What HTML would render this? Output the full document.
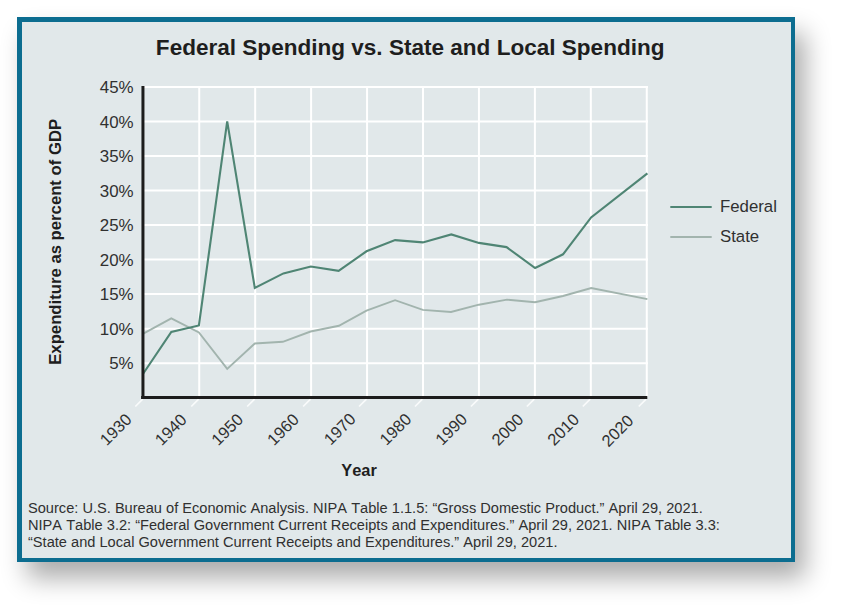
<!DOCTYPE html>
<html><head><meta charset="utf-8"><style>
html,body{margin:0;padding:0;background:#fff;width:841px;height:608px;overflow:hidden;}
.frame{position:absolute;left:17px;top:17px;width:769px;height:536px;border:solid #0c6d90;border-width:5px 4px 4px 5px;background:#e1e8ea;box-shadow:10px 16px 24px rgba(0,0,0,0.33);}
svg{position:absolute;left:0;top:0;}
text{font-family:"Liberation Sans",sans-serif;font-kerning:none;}
</style></head><body>
<div class="frame"></div>
<svg width="841" height="608" viewBox="0 0 841 608">
<line x1="199.24" y1="86" x2="199.24" y2="397" stroke="#ffffff" stroke-width="2"/>
<line x1="255.18" y1="86" x2="255.18" y2="397" stroke="#ffffff" stroke-width="2"/>
<line x1="311.12" y1="86" x2="311.12" y2="397" stroke="#ffffff" stroke-width="2"/>
<line x1="367.06" y1="86" x2="367.06" y2="397" stroke="#ffffff" stroke-width="2"/>
<line x1="423.00" y1="86" x2="423.00" y2="397" stroke="#ffffff" stroke-width="2"/>
<line x1="478.94" y1="86" x2="478.94" y2="397" stroke="#ffffff" stroke-width="2"/>
<line x1="534.88" y1="86" x2="534.88" y2="397" stroke="#ffffff" stroke-width="2"/>
<line x1="590.82" y1="86" x2="590.82" y2="397" stroke="#ffffff" stroke-width="2"/>
<line x1="646.76" y1="86" x2="646.76" y2="397" stroke="#ffffff" stroke-width="2"/>
<line x1="143" y1="363.17" x2="648" y2="363.17" stroke="#ffffff" stroke-width="2"/>
<line x1="143" y1="328.64" x2="648" y2="328.64" stroke="#ffffff" stroke-width="2"/>
<line x1="143" y1="294.11" x2="648" y2="294.11" stroke="#ffffff" stroke-width="2"/>
<line x1="143" y1="259.58" x2="648" y2="259.58" stroke="#ffffff" stroke-width="2"/>
<line x1="143" y1="225.05" x2="648" y2="225.05" stroke="#ffffff" stroke-width="2"/>
<line x1="143" y1="190.52" x2="648" y2="190.52" stroke="#ffffff" stroke-width="2"/>
<line x1="143" y1="155.99" x2="648" y2="155.99" stroke="#ffffff" stroke-width="2"/>
<line x1="143" y1="121.46" x2="648" y2="121.46" stroke="#ffffff" stroke-width="2"/>
<line x1="143" y1="86.93" x2="648" y2="86.93" stroke="#ffffff" stroke-width="2"/>
<line x1="142.70" y1="399.1" x2="135.30" y2="406.5" stroke="#ffffff" stroke-width="1.7" stroke-opacity="0.8"/>
<line x1="198.64" y1="399.1" x2="191.24" y2="406.5" stroke="#ffffff" stroke-width="1.7" stroke-opacity="0.8"/>
<line x1="254.58" y1="399.1" x2="247.18" y2="406.5" stroke="#ffffff" stroke-width="1.7" stroke-opacity="0.8"/>
<line x1="310.52" y1="399.1" x2="303.12" y2="406.5" stroke="#ffffff" stroke-width="1.7" stroke-opacity="0.8"/>
<line x1="366.46" y1="399.1" x2="359.06" y2="406.5" stroke="#ffffff" stroke-width="1.7" stroke-opacity="0.8"/>
<line x1="422.40" y1="399.1" x2="415.00" y2="406.5" stroke="#ffffff" stroke-width="1.7" stroke-opacity="0.8"/>
<line x1="478.34" y1="399.1" x2="470.94" y2="406.5" stroke="#ffffff" stroke-width="1.7" stroke-opacity="0.8"/>
<line x1="534.28" y1="399.1" x2="526.88" y2="406.5" stroke="#ffffff" stroke-width="1.7" stroke-opacity="0.8"/>
<line x1="590.22" y1="399.1" x2="582.82" y2="406.5" stroke="#ffffff" stroke-width="1.7" stroke-opacity="0.8"/>
<line x1="646.16" y1="399.1" x2="638.76" y2="406.5" stroke="#ffffff" stroke-width="1.7" stroke-opacity="0.8"/>
<polyline points="143.3,333.6 171.3,318.3 198.9,332.5 227.2,368.9 254.8,343.5 282.8,341.8 310.6,331.5 338.9,325.8 366.5,310.6 395.1,300.2 422.8,309.9 451.0,312.0 478.9,304.7 507.0,299.6 535.0,302.3 563.0,296.0 591.2,288.0 647.4,299.1" fill="none" stroke="#a2b4ae" stroke-width="1.9" stroke-linejoin="miter"/>
<polyline points="143.3,373.5 171.3,332.0 198.9,325.4 227.2,121.3 254.8,288.0 283.4,273.4 310.8,266.5 338.6,270.9 366.5,251.3 395.1,240.1 422.8,242.4 451.3,234.4 478.9,242.9 506.5,247.1 535.1,268.0 563.0,254.3 591.1,217.4 647.4,173.3" fill="none" stroke="#4f8574" stroke-width="2.1" stroke-linejoin="miter"/>
<line x1="142.95" y1="86" x2="142.95" y2="399" stroke="#1c1c1c" stroke-width="3"/>
<line x1="141.1" y1="397.5" x2="647.3" y2="397.5" stroke="#1c1c1c" stroke-width="3"/>
<text x="133.6" y="369.47" text-anchor="end" font-size="16.9" fill="#303030">5%</text>
<text x="133.6" y="334.94" text-anchor="end" font-size="16.9" fill="#303030">10%</text>
<text x="133.6" y="300.41" text-anchor="end" font-size="16.9" fill="#303030">15%</text>
<text x="133.6" y="265.88" text-anchor="end" font-size="16.9" fill="#303030">20%</text>
<text x="133.6" y="231.35" text-anchor="end" font-size="16.9" fill="#303030">25%</text>
<text x="133.6" y="196.82" text-anchor="end" font-size="16.9" fill="#303030">30%</text>
<text x="133.6" y="162.29" text-anchor="end" font-size="16.9" fill="#303030">35%</text>
<text x="133.6" y="127.76" text-anchor="end" font-size="16.9" fill="#303030">40%</text>
<text x="133.6" y="93.23" text-anchor="end" font-size="16.9" fill="#303030">45%</text>
<text transform="translate(132.80,420.50) rotate(-45)" text-anchor="end" font-size="16.5" fill="#303030">1930</text>
<text transform="translate(187.65,420.64) rotate(-45)" text-anchor="end" font-size="16.5" fill="#303030">1940</text>
<text transform="translate(244.30,420.49) rotate(-45)" text-anchor="end" font-size="16.5" fill="#303030">1950</text>
<text transform="translate(300.05,420.53) rotate(-45)" text-anchor="end" font-size="16.5" fill="#303030">1960</text>
<text transform="translate(356.80,420.08) rotate(-45)" text-anchor="end" font-size="16.5" fill="#303030">1970</text>
<text transform="translate(412.55,420.22) rotate(-45)" text-anchor="end" font-size="16.5" fill="#303030">1980</text>
<text transform="translate(468.30,420.37) rotate(-45)" text-anchor="end" font-size="16.5" fill="#303030">1990</text>
<text transform="translate(524.55,420.51) rotate(-45)" text-anchor="end" font-size="16.5" fill="#303030">2000</text>
<text transform="translate(580.30,420.46) rotate(-45)" text-anchor="end" font-size="16.5" fill="#303030">2010</text>
<text transform="translate(634.55,421.80) rotate(-45)" text-anchor="end" font-size="16.5" fill="#303030">2020</text>
<text x="410.2" y="54.6" text-anchor="middle" font-size="22.56" font-weight="bold" fill="#1e1e1e">Federal Spending vs. State and Local Spending</text>
<text transform="translate(60.7,241.8) rotate(-90)" text-anchor="middle" font-size="16.72" font-weight="bold" fill="#1e1e1e">Expenditure as percent of GDP</text>
<text x="359" y="475.7" text-anchor="middle" font-size="16.4" font-weight="bold" fill="#1e1e1e">Year</text>
<line x1="670.3" y1="207" x2="711.7" y2="207" stroke="#4f8574" stroke-width="2.2"/>
<line x1="670.3" y1="237" x2="711.7" y2="237" stroke="#a2b4ae" stroke-width="2.2"/>
<text x="720" y="212.1" font-size="16.8" fill="#303030">Federal</text>
<text x="720" y="241.7" font-size="16.8" fill="#303030">State</text>
<text x="28" y="512.8" font-size="14.61" fill="#303030">Source: U.S. Bureau of Economic Analysis. NIPA Table 1.1.5: “Gross Domestic Product.” April 29, 2021.</text>
<text x="28" y="529.8" font-size="14.61" fill="#303030">NIPA Table 3.2: “Federal Government Current Receipts and Expenditures.” April 29, 2021. NIPA Table 3.3:</text>
<text x="28" y="547.4" font-size="14.61" fill="#303030">“State and Local Government Current Receipts and Expenditures.” April 29, 2021.</text>
</svg>
</body></html>
